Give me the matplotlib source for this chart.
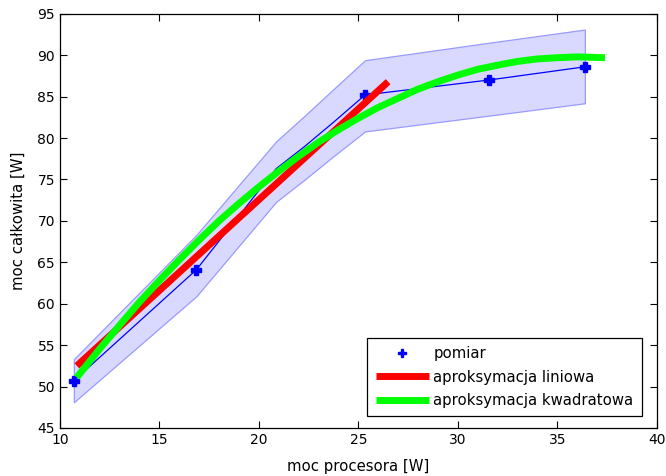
import numpy as np
import matplotlib.pyplot as plt

# Pomiary: moc procesora vs moc calkowita [W]
cpu_power = [10.7, 16.86, 20.87, 22.26, 23.75, 25.34, 31.55, 36.39]
total_power = [50.7, 64.1, 76.3, 78.9, 81.9, 85.2, 87.0, 88.6]
band_low = [48.1, 60.9, 72.3, 74.9, 77.8, 80.8, 82.7, 84.2]
band_high = [53.3, 68.3, 79.6, 82.6, 85.9, 89.4, 91.5, 93.1]

# Punkty oznaczone markerem
marker_x = [10.7, 16.86, 25.34, 31.55, 36.39]
marker_y = [50.7, 64.1, 85.2, 87.0, 88.6]

# Aproksymacja liniowa (koncowe punkty prostej)
lin_x = [10.85, 26.5]
lin_y = [52.5, 86.8]

quad_x = [10.85, 12, 13, 14, 15, 16, 17, 18, 19, 20, 21, 22, 23, 24, 25,
          26, 27, 28, 29, 30, 31, 32, 33, 34, 35, 36, 37.4]
quad_y = [51.1, 54.55, 57.4, 60.2, 62.8, 65.3, 67.7, 70.0, 72.1, 74.1, 76.0,
          77.8, 79.5, 81.0, 82.4, 83.7, 84.8, 85.9, 86.8, 87.6, 88.3, 88.8,
          89.25, 89.55, 89.7, 89.8, 89.7]

X_TICKS = np.arange(10, 41, 5)
Y_TICKS = np.arange(45, 96, 5)

plt.rcParams['font.family'] = ['DejaVu Sans']
plt.rcParams['font.size'] = 10.7

fig = plt.figure(figsize=(6.66, 4.76), dpi=100)
ax = fig.add_axes([0.090, 0.101, 0.896, 0.870])

ax.fill_between(cpu_power, band_low, band_high, facecolor='#d9d9ff',
                edgecolor='#9a9aff', linewidth=0.9, zorder=1)
ax.plot(cpu_power, total_power, color='b', linewidth=0.9, zorder=2)
ax.plot(marker_x, marker_y, linestyle='none', marker='P', markersize=7,
        color='b', label='pomiar', zorder=2)
ax.plot(lin_x, lin_y, color='#ff0000', linewidth=5, solid_capstyle='butt',
        label='aproksymacja liniowa', zorder=3)
ax.plot(quad_x, quad_y, color='#00ff00', linewidth=5, solid_capstyle='butt',
        label='aproksymacja kwadratowa', zorder=4)

ax.set_xlim(10, 40)
ax.set_ylim(45, 95)
ax.set_xticks(X_TICKS)
ax.set_yticks(Y_TICKS)
ax.tick_params(direction='in', top=True, right=True, length=5, width=0.8,
               labelsize=10)
for spine in ax.spines.values():
    spine.set_linewidth(0.9)

ax.set_xlabel('moc procesora [W]', labelpad=9)
ax.set_ylabel('moc całkowita [W]', labelpad=8.5)

leg = ax.legend(loc='lower right', bbox_to_anchor=(0.975, 0.029), fancybox=False,
                edgecolor='black', framealpha=1, handlelength=3.6, handletextpad=0.3,
                borderpad=0.55, labelspacing=0.55, borderaxespad=0, markerscale=0.9)
leg.get_frame().set_linewidth(0.9)

fig.savefig('out.png', dpi=100)
